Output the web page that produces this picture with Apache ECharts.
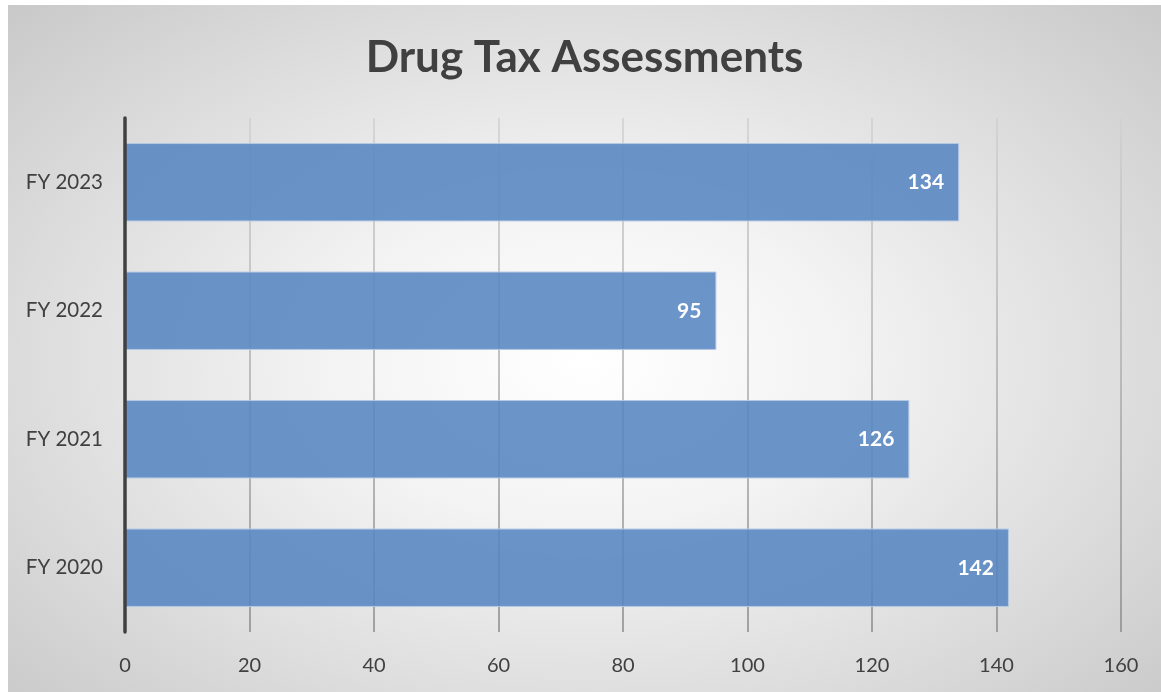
<!DOCTYPE html>
<html>
<head>
<meta charset="utf-8">
<script src="https://cdn.jsdelivr.net/npm/echarts@6/dist/echarts.min.js"></script>
<style>
  html, body { margin: 0; padding: 0; background: #ffffff; width: 1161px; height: 692px; overflow: hidden; }
  #chart {
    position: absolute; left: 8px; top: 5px; width: 1153px; height: 687px;
    background: radial-gradient(ellipse 75% 80% at 50% 52%, #ffffff 0%, #f3f3f3 30%, #dcdcdc 65%, #c4c4c4 100%);
  }
</style>
</head>
<body>
<div id="chart"></div>
<script>
const titleText = 'Drug Tax Assessments';
const categories = ['FY 2020', 'FY 2021', 'FY 2022', 'FY 2023'];
const values = [142, 126, 95, 134];
const xMin = 0, xMax = 160, xStep = 20;

const chart = echarts.init(document.getElementById('chart'), null, { renderer: 'canvas' });
const FONT = 'Lato, "Open Sans", sans-serif';
chart.setOption({
  backgroundColor: 'transparent',
  animation: false,
  title: {
    text: titleText,
    left: 'center',
    top: 26,
    padding: [5, 0, 5, 11],
    textStyle: { fontFamily: FONT, fontWeight: 'bold', fontSize: 44, color: '#404040' }
  },
  grid: { left: 117, top: 113, width: 996, height: 514, containLabel: false },
  xAxis: {
    type: 'value',
    min: xMin, max: xMax, interval: xStep,
    axisLine: { show: false },
    axisTick: { show: false },
    axisLabel: { fontFamily: FONT, fontSize: 20, color: '#404040', margin: 24 },
    splitLine: {
      show: true,
      lineStyle: {
        width: 1.5,
        color: new echarts.graphic.LinearGradient(0, 0, 0, 1, [
          { offset: 0, color: '#d0d0d0' },
          { offset: 1, color: '#8a8a8a' }
        ])
      }
    }
  },
  yAxis: {
    type: 'category',
    data: categories,
    z: 5,
    axisLine: { show: true, lineStyle: { color: '#404040', width: 3.5 } },
    axisTick: { show: false },
    axisLabel: { fontFamily: FONT, fontSize: 20.5, color: '#404040', margin: 22 },
    splitLine: { show: false }
  },
  series: [{
    type: 'bar',
    data: values,
    barCategoryGap: '39%',
    itemStyle: { color: 'rgba(86,133,194,0.88)', borderColor: '#b4c8e4', borderWidth: 1 },
    label: {
      show: true,
      position: 'insideRight',
      distance: 15,
      fontFamily: FONT,
      fontWeight: 'bold',
      fontSize: 21,
      color: '#ffffff'
    }
  }]
});
</script>
</body>
</html>
